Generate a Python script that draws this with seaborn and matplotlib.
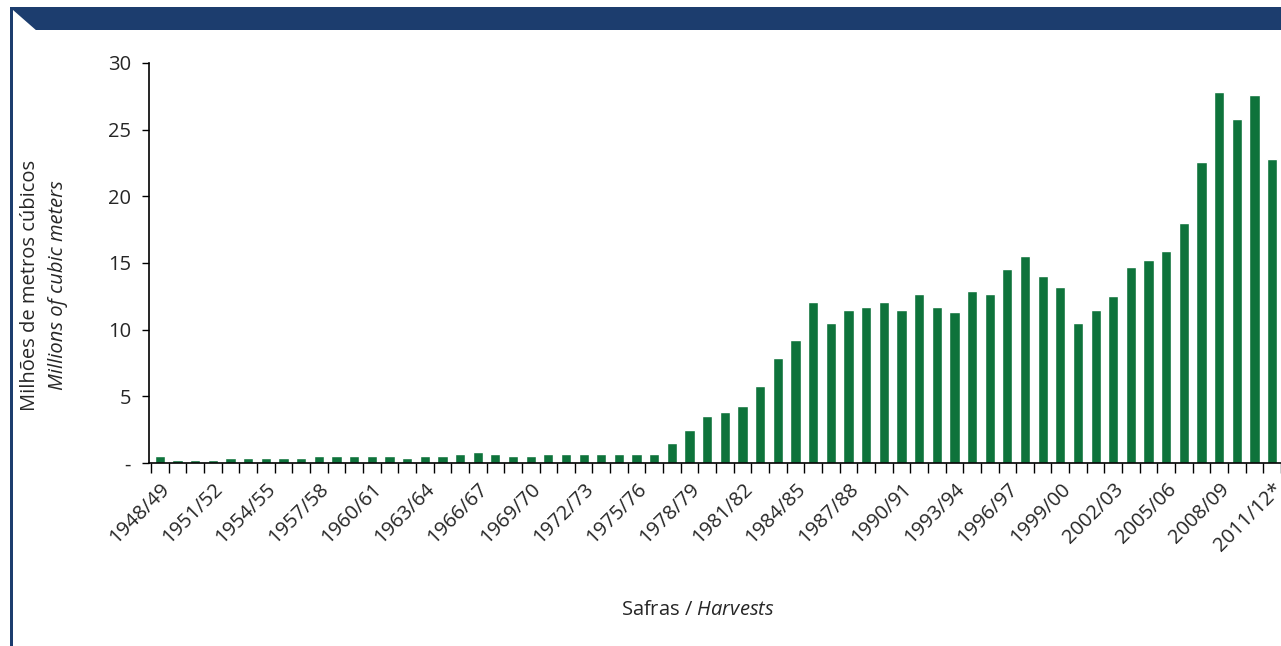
import numpy as np
import matplotlib
matplotlib.use("Agg")
import matplotlib.pyplot as plt
import seaborn as sns
import pandas as pd
from matplotlib.patches import Rectangle, Polygon

# Safras / Harvests 1948/49 .. 2011/12*
harvests = [f"{y}/{str(y + 1)[-2:]}" for y in range(1948, 2012)]
harvests[-1] = harvests[-1] + "*"

# Milhões de metros cúbicos
volume = [0.5, 0.2, 0.2, 0.2, 0.35, 0.35, 0.35, 0.35, 0.35, 0.5,
          0.5, 0.5, 0.5, 0.5, 0.35, 0.5, 0.5, 0.7, 0.85, 0.7,
          0.5, 0.5, 0.7, 0.7, 0.7, 0.7, 0.7, 0.7, 0.7, 1.5,
          2.5, 3.5, 3.8, 4.3, 5.8, 7.85, 9.2, 12.05, 10.5, 11.5,
          11.7, 12.05, 11.5, 12.7, 11.7, 11.35, 12.9, 12.7, 14.55, 15.55,
          14.05, 13.2, 10.5, 11.5, 12.5, 14.7, 15.2, 15.9, 18.0, 22.6,
          27.8, 25.8, 27.6, 22.8]

label_every = 3
y_ticks = [0, 5, 10, 15, 20, 25, 30]
y_labels = ["-", "5", "10", "15", "20", "25", "30"]

GREEN = "#0e733b"
BLUE = "#1c3d6e"
FS = 14.5

sns.set_style("white")
plt.rcParams["font.family"] = ["Open Sans", "DejaVu Sans"]
plt.rcParams["mathtext.fontset"] = "custom"
plt.rcParams["mathtext.rm"] = "Open Sans"
plt.rcParams["mathtext.it"] = "Open Sans:italic"

df = pd.DataFrame({"safra": harvests, "volume": volume})

W, H = 1281, 646
fig = plt.figure(figsize=(W / 100, H / 100), dpi=100)
ax = fig.add_axes([149 / W, 1 - 463 / H, 1 - 149 / W, 400 / H])

sns.barplot(data=df, x="safra", y="volume", color=GREEN, width=0.58,
            saturation=1, ax=ax)

ax.set_ylim(0, 30)
ax.set_xlim(-0.62, len(harvests) - 0.6)
ax.set_yticks(y_ticks, y_labels, fontsize=FS)
ax.tick_params(axis="y", direction="out", length=5, width=1, color="black",
               pad=8, left=True)

idx = list(range(0, len(harvests), label_every))
ax.set_xticks(idx, [harvests[i] for i in idx], fontsize=FS, rotation=45,
              ha="right", rotation_mode="anchor")
ax.tick_params(axis="x", which="major", length=0, pad=12)
ax.set_xticks(np.arange(-0.5, len(harvests), 1), minor=True)
ax.tick_params(axis="x", which="minor", direction="out", length=7, width=1,
               color="black", bottom=True)

for s in ["top", "right"]:
    ax.spines[s].set_visible(False)
for s in ["left", "bottom"]:
    ax.spines[s].set_color("black")
    ax.spines[s].set_linewidth(1.2)

ax.set_xlabel("")
ax.set_ylabel("")

fig.text(30 / W, 1 - 285 / H, "Milhões de metros cúbicos", rotation=90,
         ha="center", va="center", fontsize=FS)
fig.text(58 / W, 1 - 285 / H, "Millions of cubic meters", rotation=90,
         ha="center", va="center", fontsize=FS, style="italic")
fig.text(698 / W, 1 - 610 / H, "Safras / $\\mathit{Harvests}$",
         ha="center", va="center", fontsize=FS)

# header band with cut corner and left border
fig.patches.append(Rectangle((10 / W, 1 - 30 / H), 1 - 10 / W, 23 / H,
                             transform=fig.transFigure, color=BLUE, lw=0))
fig.patches.append(Polygon([(12.7 / W, 1 - 10 / H), (12.7 / W, 1 - 30.5 / H),
                            (37 / W, 1 - 30.5 / H)], closed=True,
                           transform=fig.transFigure, color="white", lw=0))
fig.patches.append(Rectangle((10 / W, 0), 2.6 / W, 1 - 7 / H,
                             transform=fig.transFigure, color=BLUE, lw=0))

fig.savefig("out.png", dpi=100)
